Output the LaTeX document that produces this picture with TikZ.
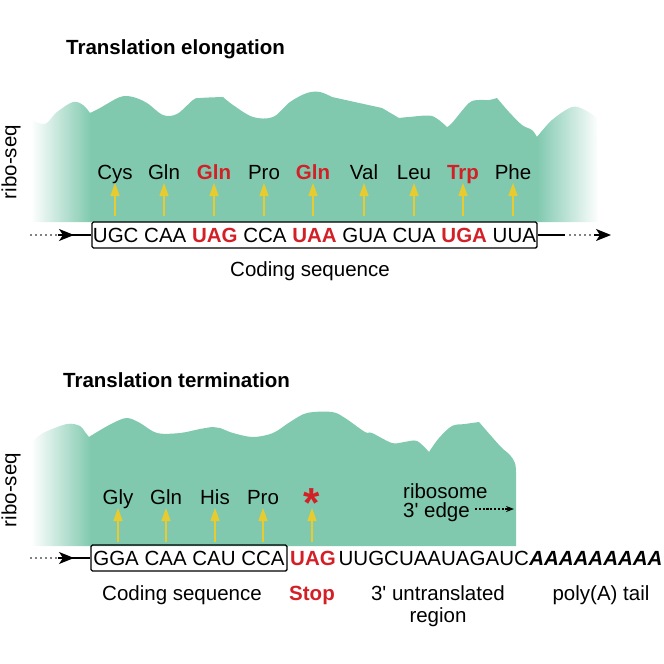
\documentclass[tikz,border=0pt]{standalone}
\usepackage{fontspec}
\setmainfont[Ligatures=TeXOff]{Liberation Sans}
\usetikzlibrary{arrows.meta}
\definecolor{ribogreen}{HTML}{80C9AF}
\definecolor{stopred}{HTML}{D32027}
\definecolor{aayellow}{HTML}{E8CB2E}
\begin{document}
\begin{tikzpicture}[x=1pt,y=-1pt,
  lbl/.style={font=\fontsize{20.5}{24}\selectfont, inner sep=0pt},
  aa/.style={lbl, anchor=base},
  aared/.style={aa, text=stopred, font=\fontsize{20.5}{24}\selectfont\bfseries},
  ttl/.style={font=\fontsize{20.5}{24}\selectfont\bfseries, anchor=base west, inner sep=0pt},
  codarrow/.style={draw=aayellow, line width=1.6pt, -{Triangle[length=13pt,width=9pt]}},
  seqbox/.style={draw=black, line width=1.4pt, rounded corners=1.5pt, inner sep=0pt, minimum height=26pt, font=\fontsize{20.5}{24}\selectfont},
  dotline/.style={line width=1.9pt, line cap=round, dash pattern=on 0pt off 5pt},
  tipline/.style={line width=1.4pt, -{Stealth[length=15pt,width=12pt,inset=4pt]}},
  solidline/.style={line width=1.4pt},
  dasharrow/.style={line width=1.1pt, dash pattern=on 2.2pt off 1.6pt, -{Stealth[length=8pt,width=6pt]}}
]
\useasboundingbox (0,0) rectangle (664,664);

% ---------- top panel ----------
\node[ttl] (title1) at (66,54) {Translation elongation};

\begin{scope}
\clip (32,222) -- (32,120)
  -- plot[smooth,tension=0.55] coordinates {(32,120) (45,124) (57,112) (73,102) (83,105) (90,113)}
  -- plot[smooth,tension=0.55] coordinates {(90,113) (100,108) (120,97) (133,97) (147,103) (163,115) (177,114) (193,100) (200,98) (223,97)}
  -- plot[smooth,tension=0.55] coordinates {(223,97) (233,105) (253,117) (273,117) (290,102) (307,93) (320,92) (332,97)}
  -- (382,108)
  -- plot[smooth,tension=0.5] coordinates {(382,108) (399,118)}
  -- plot[smooth,tension=0.5] coordinates {(399,118) (409,117) (432,116) (447,127)}
  -- plot[smooth,tension=0.55] coordinates {(447,127) (452,123) (469,103) (479,100) (489,100) (497,98)}
  -- plot[smooth,tension=0.55] coordinates {(497,98) (509,112) (522,125) (532,130) (537,137)}
  -- plot[smooth,tension=0.55] coordinates {(537,137) (552,120) (572,107) (585,110) (597,118)}
  -- (598,222) -- cycle;
\shade[left color=white, right color=ribogreen] (31,80) rectangle (91,223);
\fill[ribogreen] (90,80) rectangle (538,223);
\shade[left color=ribogreen, right color=white] (537,80) rectangle (599,223);
\end{scope}

\node[lbl, rotate=90] (rs1) at (11,162) {ribo-seq};

\node[seqbox, minimum width=445pt] (cds1) at (314.5,235)
  {UGC CAA {\color{stopred}\bfseries UAG} CCA {\color{stopred}\bfseries UAA} GUA CUA {\color{stopred}\bfseries UGA} UUA};

\node[aa] (t1) at (115,179) {Cys};
\node[aa] (t2) at (164,179) {Gln};
\node[aared] (t3) at (214,179) {Gln};
\node[aa] (t4) at (264,179) {Pro};
\node[aared] (t5) at (313,179) {Gln};
\node[aa] (t6) at (364,179) {Val};
\node[aa] (t7) at (414,179) {Leu};
\node[aared] (t8) at (463,179) {Trp};
\node[aa] (t9) at (513,179) {Phe};
\foreach \i/\x in {1/115,2/164,3/214,4/264,5/313,6/364,7/414,8/463,9/513}{
  \coordinate (tb\i) at (\x,216);
  \draw[codarrow] (tb\i) -- ([yshift=-4pt]t\i.base);
}

\coordinate (tl0) at (31,235);
\coordinate (tla) at (56,235);
\coordinate (tlb) at (58,235);
\coordinate (tl1) at (74,235);
\coordinate (tl2) at (68,235);
\draw[dotline] (tl0) -- (tla);
\draw[tipline] (tlb) -- (tl1);
\draw[solidline] (tl2) -- (cds1.west);
\coordinate (tr1) at (565,235);
\coordinate (tr2) at (570,235);
\coordinate (tra) at (591,235);
\coordinate (trb) at (594,235);
\coordinate (tr3) at (611,235);
\draw[solidline] (cds1.east) -- (tr1);
\draw[dotline] (tr2) -- (tra);
\draw[tipline] (trb) -- (tr3);

\node[lbl, anchor=base] (cdslbl1) at (310,276) {Coding sequence};

% ---------- bottom panel ----------
\node[ttl] (title2) at (63,387) {Translation termination};

\begin{scope}
\clip (32,546) -- (32,442)
  -- plot[smooth,tension=0.55] coordinates {(32,442) (43,433) (67,424) (80,426) (85,432) (89,437)}
  -- plot[smooth,tension=0.55] coordinates {(89,437) (97,432) (113,423) (127,418) (140,423) (157,433) (180,433) (200,429) (213,427) (220,428) (233,433) (253,437) (273,433) (290,422) (307,413) (332,412) (345,418) (365,432) (372,433) (392,443) (404,442) (417,441) (429,452)}
  -- plot[smooth,tension=0.55] coordinates {(429,452) (439,438) (452,426) (465,424) (479,422)}
  -- plot[smooth,tension=0.55] coordinates {(479,422) (492,437) (502,448) (510,455) (515,463) (516,472)}
  -- (516,546) -- cycle;
\shade[left color=white, right color=ribogreen] (31,400) rectangle (91,547);
\fill[ribogreen] (90,400) rectangle (520,547);
\end{scope}

\node[lbl, rotate=90] (rs2) at (11,490) {ribo-seq};

\node[aa] (b1) at (118,504) {Gly};
\node[aa] (b2) at (166,504) {Gln};
\node[aa] (b3) at (215,504) {His};
\node[aa] (b4) at (263,504) {Pro};
\node[inner sep=0pt, text=stopred, font=\fontsize{42}{42}\selectfont\bfseries, anchor=north] (ast) at (312,488) {*};
\foreach \i/\x in {1/118,2/166,3/215,4/263}{
  \coordinate (bb\i) at (\x,542);
  \draw[codarrow] (bb\i) -- ([yshift=-4pt]b\i.base);
}
\coordinate (bb5) at (312,542);
\coordinate (asttip) at (312,508);
\draw[codarrow] (bb5) -- (asttip);

\node[lbl, anchor=base west] (rib1) at (403,498) {ribosome};
\node[lbl, anchor=base west] (rib2) at (403,517) {3' edge};
\coordinate (ribstart) at (475,509);
\coordinate (ribend) at (514,509);
\draw[dasharrow] (ribstart) -- (ribend);

\node[seqbox, minimum width=196pt] (cds2) at (189,558) {GGA CAA CAU CCA};
\coordinate (bl0) at (31,558);
\coordinate (bla) at (56,558);
\coordinate (blb) at (58,558);
\coordinate (bl1) at (74,558);
\coordinate (bl2) at (68,558);
\draw[dotline] (bl0) -- (bla);
\draw[tipline] (blb) -- (bl1);
\draw[solidline] (bl2) -- (cds2.west);

\node[lbl, anchor=base west, text=stopred, font=\fontsize{20.5}{24}\selectfont\bfseries] (stopc) at (290,565.3) {UAG};
\node[lbl, anchor=base west] (utr) at ([xshift=2.5pt]stopc.base east) {UUGCUAAUAGAUC};
\node[lbl, anchor=base west, font=\fontsize{20.5}{24}\selectfont\bfseries\itshape] (polya) at (utr.base east) {AAAAAAAAA};

\node[lbl, anchor=base] (cdslbl2) at (182,600) {Coding sequence};
\node[lbl, anchor=base, text=stopred, font=\fontsize{20.5}{24}\selectfont\bfseries] (stoplbl) at (312,600) {Stop};
\node[lbl, anchor=base] (utrlbl1) at (438,600) {3' untranslated};
\node[lbl, anchor=base] (utrlbl2) at (438,622) {region};
\node[lbl, anchor=base] (polylbl) at (601,600) {poly(A) tail};
\end{tikzpicture}
\end{document}
